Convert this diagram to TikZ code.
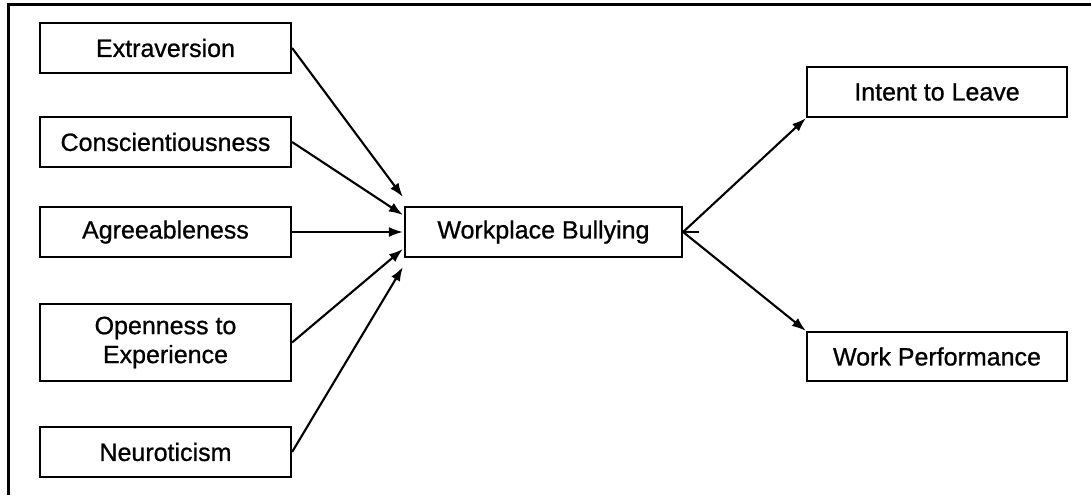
\documentclass[tikz,border=0pt]{standalone}
\usepackage{fontspec}
\setmainfont[FakeBold=0.8]{Liberation Sans}
\usetikzlibrary{arrows.meta}
\begin{document}
\begin{tikzpicture}[x=1pt,y=-1pt,
  box/.style={draw=black,line width=2.2pt,fill=white,minimum width=251pt,minimum height=50pt,inner sep=0pt,align=center,font=\fontsize{25}{29}\selectfont},
  conn/.style={line width=2.1pt,-{Latex[length=14pt,width=10pt]}}]
\useasboundingbox (0,0) rectangle (1091,495);
\draw[line width=3pt] (8,495) -- (8,5) -- (1091,5);
\node[box] (ext) at (165.5,48) {Extraversion};
\node[box] (con) at (165.5,142) {Conscientiousness};
\node[box] (agr) at (165.5,232) {Agreeableness};
\node[box,minimum height=77pt] (opn) at (165.5,342.5) {Openness to\\Experience};
\node[box] (neu) at (165.5,452) {Neuroticism};
\node[box,minimum width=277pt] (wb) at (543.5,232) {Workplace Bullying};
\node[box,minimum width=260pt] (itl) at (937,92) {Intent to Leave};
\node[box,minimum width=260pt,minimum height=49pt] (wp) at (937,356.5) {Work Performance};
\draw[conn] (ext.east) -- ([xshift=-1pt,yshift=35pt]wb.west);
\draw[conn] (con.east) -- ([xshift=-1pt,yshift=17pt]wb.west);
\draw[conn] (agr.east) -- ([xshift=-1pt]wb.west);
\draw[conn] (opn.east) -- ([xshift=-1pt,yshift=-17pt]wb.west);
\draw[conn] (neu.east) -- ([xshift=-1pt,yshift=-35pt]wb.west);
\draw[conn] (wb.east) -- (itl.south west);
\draw[conn] (wb.east) -- (wp.north west);
\draw[line width=1.5pt] (wb.east) -- ++(16,0);
\end{tikzpicture}
\end{document}
